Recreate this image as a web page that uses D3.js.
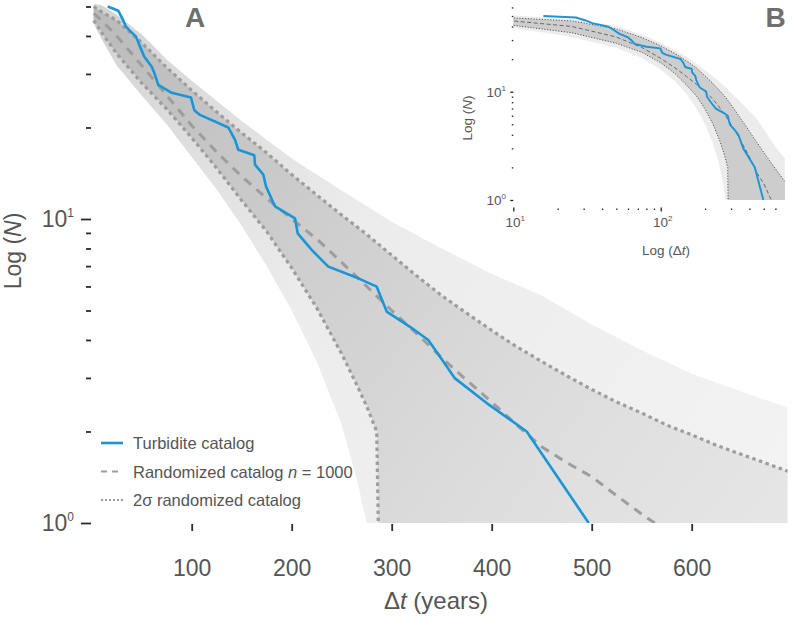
<!DOCTYPE html>
<html>
<head>
<meta charset="utf-8">
<script src="https://cdn.jsdelivr.net/npm/d3@7"></script>
<style>
  body { margin: 0; background: #fff; }
  svg { display: block; font-family: "Liberation Sans", Arial, Helvetica, sans-serif; }
</style>
</head>
<body>
<svg width="792" height="617"></svg>
<script>
// Data: pairs of [Δt (years), N]
const turbidite = [[16,50],[26.6,48.4],[30.6,45.7],[34.3,42.9],[38.3,41.6],[44.3,39.8],[48.3,36.9],[52.6,34.2],
  [60,31.7],[63.3,29.8],[66.6,27.6],[80,26],[99.3,25.1],[102.6,22.8],[108.3,22],[136.6,20],[143.3,18.2],
  [146.6,16.9],[162.6,16.2],[163.3,15.1],[171.6,14],[174.3,12.8],[183.3,11],[203.3,10.05],[206,8.97],
  [220,7.91],[236.6,6.97],[266.6,6.38],[285,5.99],[295,4.96],[318.3,4.42],[336.6,4],[348.3,3.52],
  [363.3,2.99],[395,2.48],[435,2],[497,1]];

const randomMean = [[2,47.5],[10,45],[25,40],[50,32],[75,25.5],[100,20.3],[125,16.6],[150,13.8],[175,11.7],
  [200,10],[225,8.6],[250,7.2],[275,6],[300,5],[325,4.2],[350,3.5],[375,2.95],[400,2.5],[425,2.1],
  [450,1.78],[475,1.58],[500,1.42],[525,1.23],[550,1.07],[563,1]];

const sigmaUpper = [[2,50],[10,48],[25,45],[50,38],[75,31.5],[100,26.5],[125,22.5],[150,19.2],[175,16.5],
  [200,14],[225,12],[250,10.3],[275,8.9],[300,7.6],[325,6.5],[350,5.6],[375,4.9],[400,4.3],[425,3.8],
  [450,3.4],[475,3.05],[500,2.75],[525,2.5],[550,2.3],[575,2.1],[600,1.95],[625,1.8],[650,1.68],
  [675,1.57],[696,1.48]];

const sigmaLower = [[2,45],[10,41],[25,35],[50,28],[75,23],[100,18.5],[125,14.7],[150,11.5],[175,9.1],
  [200,6.9],[225,5.1],[250,3.6],[265,2.85],[275,2.42],[285,2],[286.6,1]];

// envelope of the 1000 randomized catalogs
const fanUpper = [[2,51],[10,50.5],[25,47],[50,40.5],[75,33.5],[100,28.5],[150,21],[200,15.8],[250,12.4],
  [300,9.8],[350,8],[400,6.6],[450,5.6],[500,4.5],[550,3.7],[600,3.1],[650,2.7],[696,2.4]];
const fanLower = [[2,44],[10,39],[25,32],[50,25.5],[75,20.5],[100,16],[125,12.5],[150,9.5],[175,7],
  [200,5],[225,3.4],[250,2.1],[265,1.4],[275,1]];

const xDomain = [0, 696];
const yMin = 1;
const xTicksMain = [100, 200, 300, 400, 500, 600];
const yMajor = [1, 10];
const yMinor = [2, 3, 4, 5, 6, 7, 8, 9, 20, 30, 40, 50];
const yMinorInset = [2, 3, 4, 5, 6, 7, 8, 9, 20, 30, 40, 50, 60];
const xMajorInset = [10, 100];
const xMinorInset = [20, 30, 40, 50, 60, 70, 80, 90, 200, 300, 400, 500, 600];

const blue = "#1995d8";
const svg = d3.select("svg");
const defs = svg.append("defs");

// ---------- main panel ----------
const x = d3.scaleLinear().domain([0, 100]).range([91.7, 191.7]);
const y = d3.scaleLog().domain([1, 10]).range([523, 219]);

defs.append("clipPath").attr("id", "clipA").append("rect")
  .attr("x", x(xDomain[0])).attr("y", 0)
  .attr("width", x(xDomain[1]) - x(xDomain[0])).attr("height", y(yMin));

const outerGrad = defs.append("linearGradient").attr("id", "outerGrad")
  .attr("gradientUnits", "userSpaceOnUse")
  .attr("x1", 90).attr("y1", 0).attr("x2", 790).attr("y2", 523);
outerGrad.append("stop").attr("offset", "0%").attr("stop-color", "#d2d2d2");
outerGrad.append("stop").attr("offset", "40%").attr("stop-color", "#ececec");
outerGrad.append("stop").attr("offset", "100%").attr("stop-color", "#f3f3f3");

const bandGrad = defs.append("linearGradient").attr("id", "bandGrad")
  .attr("gradientUnits", "userSpaceOnUse")
  .attr("x1", 90).attr("y1", 0).attr("x2", 790).attr("y2", 523);
bandGrad.append("stop").attr("offset", "0%").attr("stop-color", "#bababa");
bandGrad.append("stop").attr("offset", "35%").attr("stop-color", "#cdcdcd");
bandGrad.append("stop").attr("offset", "70%").attr("stop-color", "#dddddd");
bandGrad.append("stop").attr("offset", "100%").attr("stop-color", "#e6e6e6");

const gA = svg.append("g");
const plotA = gA.append("g").attr("clip-path", "url(#clipA)");
const lineA = d3.line().x(d => x(d[0])).y(d => y(d[1]));
const corner = [xDomain[1], yMin];

plotA.append("path")
  .attr("d", lineA(fanUpper.concat([corner], fanLower.slice().reverse())) + "Z")
  .attr("fill", "url(#outerGrad)");
plotA.append("path")
  .attr("d", lineA(sigmaUpper.concat([corner], sigmaLower.slice().reverse())) + "Z")
  .attr("fill", "url(#bandGrad)");

plotA.append("path").datum(sigmaUpper).attr("d", lineA)
  .attr("fill", "none").attr("stroke", "#9d9d9d").attr("stroke-width", 3.2).attr("stroke-dasharray", "3.5,3.5");
plotA.append("path").datum(sigmaLower).attr("d", lineA)
  .attr("fill", "none").attr("stroke", "#9d9d9d").attr("stroke-width", 3.2).attr("stroke-dasharray", "3.5,3.5");
plotA.append("path").datum(randomMean).attr("d", lineA)
  .attr("fill", "none").attr("stroke", "#9d9d9d").attr("stroke-width", 3).attr("stroke-dasharray", "9,7");
plotA.append("path").datum(turbidite).attr("d", lineA)
  .attr("fill", "none").attr("stroke", blue).attr("stroke-width", 2.6).attr("stroke-linejoin", "round");

// axes (ticks only, no domain line)
function styleAxis(g) {
  g.select(".domain").remove();
  g.selectAll(".tick line").attr("stroke", "#2b2b2b").attr("stroke-width", 1.8);
}
gA.append("g").attr("transform", "translate(91,0)")
  .call(d3.axisLeft(y).tickValues(yMajor).tickSize(10).tickFormat(() => ""))
  .call(styleAxis);
gA.append("g").attr("transform", "translate(91,0)")
  .call(d3.axisLeft(y).tickValues(yMinor).tickSize(5).tickFormat(() => ""))
  .call(styleAxis);
gA.append("g").attr("transform", "translate(0,524)")
  .call(d3.axisBottom(x).tickValues(xTicksMain).tickSize(7).tickPadding(29))
  .call(styleAxis)
  .call(g => g.selectAll(".tick text").attr("fill", "#555").attr("font-size", 23)
    .attr("font-family", "Liberation Sans, Arial, sans-serif"));

yMajor.forEach((v, i) => {
  const t = gA.append("text").attr("x", 74).attr("y", y(v) + 8)
    .attr("text-anchor", "end").attr("fill", "#555").attr("font-size", 23);
  t.append("tspan").text("10");
  t.append("tspan").attr("font-size", 12).attr("dy", -10).text(String(Math.log10(v)));
});

gA.append("text").attr("transform", "translate(21,251) rotate(-90)")
  .attr("text-anchor", "middle").attr("fill", "#555").attr("font-size", 23)
  .call(t => {
    t.append("tspan").text("Log (");
    t.append("tspan").attr("font-style", "italic").text("N");
    t.append("tspan").text(")");
  });
gA.append("text").attr("x", 436).attr("y", 609)
  .attr("text-anchor", "middle").attr("fill", "#555").attr("font-size", 24)
  .call(t => {
    t.append("tspan").text("Δ");
    t.append("tspan").attr("font-style", "italic").text("t");
    t.append("tspan").text(" (years)");
  });
svg.append("text").attr("x", 195).attr("y", 27).attr("text-anchor", "middle")
  .attr("font-size", 28).attr("font-weight", "bold").attr("fill", "#6f6f6f").text("A");

// legend
const legend = gA.append("g").attr("transform", "translate(101,443)");
const legendItems = [
  { parts: [["Turbidite catalog", false]], stroke: blue, width: 2.6, dash: null },
  { parts: [["Randomized catalog ", false], ["n", true], [" = 1000", false]], stroke: "#9d9d9d", width: 2.2, dash: "6,5" },
  { parts: [["2σ randomized catalog", false]], stroke: "#9d9d9d", width: 2.2, dash: "2,2" }
];
legendItems.forEach((d, i) => {
  const row = legend.append("g").attr("transform", `translate(0,${i * 28.5})`);
  row.append("line").attr("x1", 0).attr("x2", 22).attr("y1", 0).attr("y2", 0)
    .attr("stroke", d.stroke).attr("stroke-width", d.width).attr("stroke-dasharray", d.dash);
  const t = row.append("text").attr("x", 32).attr("y", 6).attr("fill", "#555").attr("font-size", 16.5);
  d.parts.forEach(p => t.append("tspan").attr("font-style", p[1] ? "italic" : null).text(p[0]));
});

// ---------- inset panel B ----------
const xi = d3.scaleLog().domain([10, 100]).range([513.3, 660.7]);
const yi = d3.scaleLog().domain([1, 10]).range([200, 91.7]);
const insetXMax = 697, insetYMax = 63;

defs.append("clipPath").attr("id", "clipB").append("rect")
  .attr("x", xi(10)).attr("y", yi(insetYMax))
  .attr("width", xi(insetXMax) - xi(10)).attr("height", yi(yMin) - yi(insetYMax));

const gB = svg.append("g");
const plotB = gB.append("g").attr("clip-path", "url(#clipB)");
const lineB = d3.line().x(d => xi(d[0])).y(d => yi(d[1]));

plotB.append("path")
  .attr("d", lineB(fanUpper.concat([corner], fanLower.slice().reverse())) + "Z")
  .attr("fill", "#ececec");
plotB.append("path")
  .attr("d", lineB(sigmaUpper.concat([corner], sigmaLower.slice().reverse())) + "Z")
  .attr("fill", "#cdcdcd");
[sigmaUpper, sigmaLower].forEach(s => plotB.append("path").datum(s).attr("d", lineB)
  .attr("fill", "none").attr("stroke", "#555").attr("stroke-width", 1).attr("stroke-dasharray", "1.2,1.6"));
plotB.append("path").datum(randomMean).attr("d", lineB)
  .attr("fill", "none").attr("stroke", "#666").attr("stroke-width", 1).attr("stroke-dasharray", "4,2.5");
plotB.append("path").datum(turbidite).attr("d", lineB)
  .attr("fill", "none").attr("stroke", blue).attr("stroke-width", 1.9).attr("stroke-linejoin", "round");

function styleInset(g) {
  g.select(".domain").remove();
  g.selectAll(".tick line").attr("stroke", "#222").attr("stroke-width", 1.3);
}
gB.append("g").attr("transform", "translate(513.3,0)")
  .call(d3.axisLeft(yi).tickValues(yMajor).tickSize(3).tickFormat(() => "")).call(styleInset);
gB.append("g").attr("transform", "translate(513.3,0)")
  .call(d3.axisLeft(yi).tickValues(yMinorInset).tickSize(1.5).tickFormat(() => "")).call(styleInset);
gB.append("g").attr("transform", "translate(0,207.5)")
  .call(d3.axisBottom(xi).tickValues(xMajorInset).tickSize(4).tickFormat(() => "")).call(styleInset);
gB.append("g").attr("transform", "translate(0,208.5)")
  .call(d3.axisBottom(xi).tickValues(xMinorInset).tickSize(1.5).tickFormat(() => "")).call(styleInset);

yMajor.forEach(v => {
  const t = gB.append("text").attr("x", 506).attr("y", yi(v) + 5)
    .attr("text-anchor", "end").attr("fill", "#555").attr("font-size", 13.5);
  t.append("tspan").text("10");
  t.append("tspan").attr("font-size", 8).attr("dy", -6).text(String(Math.log10(v)));
});
xMajorInset.forEach(v => {
  const t = gB.append("text").attr("x", xi(v) + 2).attr("y", 227)
    .attr("text-anchor", "middle").attr("fill", "#555").attr("font-size", 13.5);
  t.append("tspan").text("10");
  t.append("tspan").attr("font-size", 8).attr("dy", -6).text(String(Math.log10(v)));
});
gB.append("text").attr("transform", "translate(472,118) rotate(-90)")
  .attr("text-anchor", "middle").attr("fill", "#555").attr("font-size", 13.5)
  .call(t => {
    t.append("tspan").text("Log (");
    t.append("tspan").attr("font-style", "italic").text("N");
    t.append("tspan").text(")");
  });
gB.append("text").attr("x", 666).attr("y", 255)
  .attr("text-anchor", "middle").attr("fill", "#555").attr("font-size", 13.5)
  .call(t => {
    t.append("tspan").text("Log (Δ");
    t.append("tspan").attr("font-style", "italic").text("t");
    t.append("tspan").text(")");
  });
svg.append("text").attr("x", 775.5).attr("y", 27).attr("text-anchor", "middle")
  .attr("font-size", 28).attr("font-weight", "bold").attr("fill", "#6f6f6f").text("B");
</script>
</body>
</html>
